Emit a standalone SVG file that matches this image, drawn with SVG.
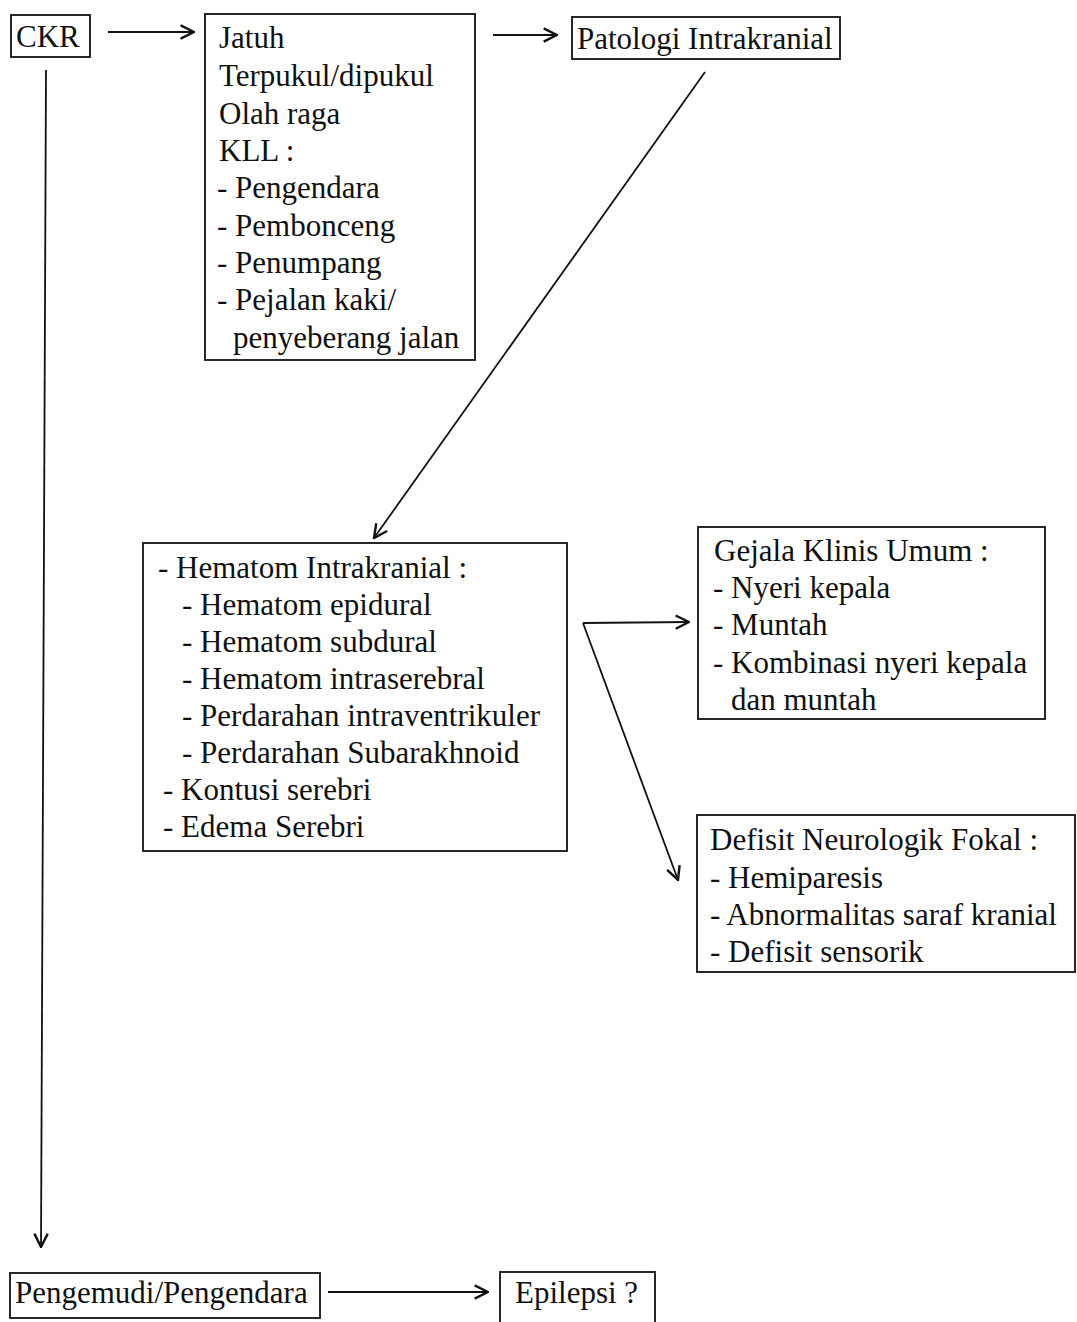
<svg xmlns="http://www.w3.org/2000/svg" width="1077" height="1322" viewBox="0 0 1077 1322">
<defs>
<marker id="arr" viewBox="0 0 12 12" refX="11" refY="6" markerWidth="16" markerHeight="16" markerUnits="userSpaceOnUse" orient="auto">
<path d="M1,1 L11,6 L1,11" fill="none" stroke="#111" stroke-width="1.8"/>
</marker>
<style>
.box{fill:#fff;stroke:#111;stroke-width:1.8}
.t{font-family:"Liberation Serif","Times New Roman",serif;font-size:31px;fill:#111}
.c{fill:none;stroke:#111;stroke-width:1.8}
</style>
</defs>
<rect width="1077" height="1322" fill="#fff"/>
<g id="connectors">
<line class="c" x1="108" y1="32" x2="194" y2="32" marker-end="url(#arr)"/>
<line class="c" x1="493" y1="35" x2="557" y2="35" marker-end="url(#arr)"/>
<line class="c" x1="705" y1="72" x2="374" y2="538" marker-end="url(#arr)"/>
<line class="c" x1="46" y1="70" x2="41" y2="1247" marker-end="url(#arr)"/>
<line class="c" x1="583" y1="623" x2="689" y2="622" marker-end="url(#arr)"/>
<line class="c" x1="583" y1="623" x2="678" y2="880" marker-end="url(#arr)"/>
<line class="c" x1="328" y1="1292" x2="488" y2="1292" marker-end="url(#arr)"/>
</g>
<g id="ckr">
<rect class="box" x="11" y="15" width="79" height="42"/>
<text class="t" x="16" y="47">CKR</text>
</g>
<g id="penyebab">
<rect class="box" x="205" y="14" width="270" height="346"/>
<text class="t" x="219" y="48">Jatuh</text>
<text class="t" x="219" y="86">Terpukul/dipukul</text>
<text class="t" x="219" y="124">Olah raga</text>
<text class="t" x="219" y="161">KLL :</text>
<text class="t" x="217" y="198">- Pengendara</text>
<text class="t" x="217" y="236">- Pembonceng</text>
<text class="t" x="217" y="273">- Penumpang</text>
<text class="t" x="217" y="310">- Pejalan kaki/</text>
<text class="t" x="233" y="348">penyeberang jalan</text>
</g>
<g id="patologi">
<rect class="box" x="572" y="17" width="268" height="42"/>
<text class="t" x="577" y="49">Patologi Intrakranial</text>
</g>
<g id="hematom">
<rect class="box" x="143" y="543" width="424" height="308"/>
<text class="t" x="158" y="578">- Hematom Intrakranial :</text>
<text class="t" x="182" y="615">- Hematom epidural</text>
<text class="t" x="182" y="652">- Hematom subdural</text>
<text class="t" x="182" y="689">- Hematom intraserebral</text>
<text class="t" x="182" y="726">- Perdarahan intraventrikuler</text>
<text class="t" x="182" y="763">- Perdarahan Subarakhnoid</text>
<text class="t" x="163" y="800">- Kontusi serebri</text>
<text class="t" x="163" y="837">- Edema Serebri</text>
</g>
<g id="gejala">
<rect class="box" x="698" y="527" width="347" height="192"/>
<text class="t" x="714" y="561">Gejala Klinis Umum :</text>
<text class="t" x="713" y="598">- Nyeri kepala</text>
<text class="t" x="713" y="635">- Muntah</text>
<text class="t" x="713" y="673">- Kombinasi nyeri kepala</text>
<text class="t" x="731" y="710">dan muntah</text>
</g>
<g id="defisit">
<rect class="box" x="697" y="815" width="378" height="157"/>
<text class="t" x="710" y="850">Defisit Neurologik Fokal :</text>
<text class="t" x="710" y="888">- Hemiparesis</text>
<text class="t" x="710" y="925">- Abnormalitas saraf kranial</text>
<text class="t" x="710" y="962">- Defisit sensorik</text>
</g>
<g id="pengemudi">
<rect class="box" x="10" y="1273" width="310" height="45"/>
<text class="t" x="15" y="1303">Pengemudi/Pengendara</text>
</g>
<g id="epilepsi">
<rect class="box" x="500" y="1272" width="155" height="70"/>
<text class="t" x="515" y="1303">Epilepsi ?</text>
</g>
</svg>
